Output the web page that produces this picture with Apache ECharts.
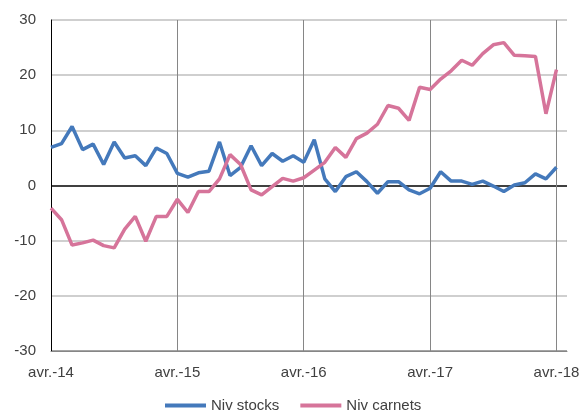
<!DOCTYPE html>
<html>
<head>
    <meta charset="utf-8">
    <title>Niv stocks / Niv carnets</title>
    <script src="https://cdn.jsdelivr.net/npm/echarts@6/dist/echarts.min.js"></script>
    <style>
        html, body { margin: 0; padding: 0; background: #fff; }
    </style>
</head>
<body>
<div id="main" style="width: 584px;height:410px;"></div>
<script type="text/javascript">

    // mois, d'avril 2014 a mai 2018 (le dernier mois reste vide)
    var mois = [
        'avr.-14', 'mai-14', 'juin-14', 'juil.-14', 'août-14', 'sept.-14', 'oct.-14', 'nov.-14', 'déc.-14',
        'janv.-15', 'févr.-15', 'mars-15', 'avr.-15', 'mai-15', 'juin-15', 'juil.-15', 'août-15', 'sept.-15',
        'oct.-15', 'nov.-15', 'déc.-15', 'janv.-16', 'févr.-16', 'mars-16', 'avr.-16', 'mai-16', 'juin-16',
        'juil.-16', 'août-16', 'sept.-16', 'oct.-16', 'nov.-16', 'déc.-16', 'janv.-17', 'févr.-17', 'mars-17',
        'avr.-17', 'mai-17', 'juin-17', 'juil.-17', 'août-17', 'sept.-17', 'oct.-17', 'nov.-17', 'déc.-17',
        'janv.-18', 'févr.-18', 'mars-18', 'avr.-18', 'mai-18'
    ];

    // niveau des stocks
    var nivStocks = [
        6.9, 7.6, 10.7, 6.5, 7.5, 3.8, 7.9, 5.0, 5.4, 3.6, 6.8, 5.8,
        2.2, 1.5, 2.3, 2.6, 7.9, 1.8, 3.3, 7.2, 3.6, 5.8, 4.4, 5.4,
        4.2, 8.3, 1.2, -1.1, 1.6, 2.5, 0.7, -1.4, 0.7, 0.7, -0.8, -1.5,
        -0.5, 2.5, 0.8, 0.8, 0.2, 0.8, -0.1, -1.1, 0.1, 0.5, 2.1, 1.2,
        3.3, null
    ];

    // niveau des carnets de commandes
    var nivCarnets = [
        -4.1, -6.2, -10.8, -10.4, -9.9, -10.9, -11.3, -7.9, -5.6, -10.1, -5.6, -5.6,
        -2.5, -4.9, -1.1, -1.1, 1.2, 5.6, 3.8, -0.8, -1.7, -0.2, 1.3, 0.8,
        1.4, 2.8, 4.2, 6.9, 5.1, 8.5, 9.5, 11.1, 14.5, 14.0, 11.8, 17.8,
        17.4, 19.3, 20.8, 22.7, 21.8, 23.9, 25.5, 25.9, 23.6, 23.5, 23.4, 13.0,
        21.0, null
    ];

    var myChart = echarts.init(document.getElementById('main'));

    var police = 'Liberation Sans, Arial, sans-serif';

    // un trait vertical par annee
    function chaqueAnnee(index) {
        return index % 12 === 0;
    }

    var option = {
        animation: false,
        grid: {
            left: 51,
            right: 17,
            top: 20,
            bottom: 59
        },
        legend: {
            data: ['Niv stocks', 'Niv carnets'],
            left: 160,
            top: 393,
            icon: 'rect',
            itemWidth: 41,
            itemHeight: 4,
            itemGap: 21,
            textStyle: {
                fontFamily: police,
                fontSize: 15,
                color: '#404040'
            }
        },
        xAxis: {
            type: 'category',
            data: mois,
            boundaryGap: false,
            axisLine: {
                onZero: false,
                lineStyle: {color: '#868686', width: 1}
            },
            axisTick: {show: false},
            axisLabel: {
                interval: chaqueAnnee,
                margin: 14,
                fontFamily: police,
                fontSize: 15,
                color: '#404040'
            },
            splitLine: {
                show: true,
                interval: chaqueAnnee,
                lineStyle: {color: '#868686', width: 1}
            }
        },
        yAxis: {
            type: 'value',
            min: -30,
            max: 30,
            interval: 10,
            axisLine: {
                show: true,
                lineStyle: {color: '#000', width: 1}
            },
            axisTick: {show: false},
            axisLabel: {
                margin: 15,
                fontFamily: police,
                fontSize: 15,
                color: '#404040'
            },
            splitLine: {
                show: true,
                // la ligne du zero est noire
                lineStyle: {
                    color: ['#868686', '#bfbfbf', '#bfbfbf', '#000', '#bfbfbf', '#bfbfbf', '#bfbfbf'],
                    width: 1.5
                }
            }
        },
        series: [{
            name: 'Niv stocks',
            type: 'line',
            data: nivStocks,
            showSymbol: false,
            symbol: 'none',
            color: '#4479bb',
            lineStyle: {width: 3.5, color: '#4479bb'}
        }, {
            name: 'Niv carnets',
            type: 'line',
            data: nivCarnets,
            showSymbol: false,
            symbol: 'none',
            color: '#d6749a',
            lineStyle: {width: 3.5, color: '#d6749a'}
        }]
    };

    myChart.setOption(option);
</script>
</body>
</html>
